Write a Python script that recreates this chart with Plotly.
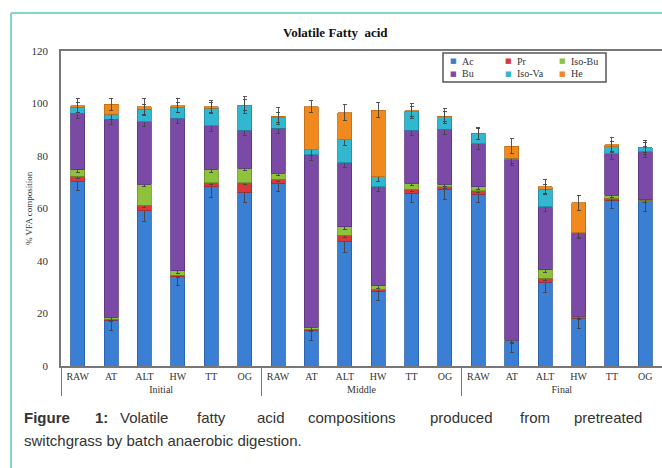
import plotly.graph_objects as go

# Sampling stage and pretreatment for each bar
stages = ["Initial"] * 6 + ["Middle"] * 6 + ["Final"] * 6
treatments = ["RAW", "AT", "ALT", "HW", "TT", "OG"] * 3

# VFA composition (%) per acid
ac = [70.2, 17.5, 59.2, 34.0, 68.3, 66.2, 69.6, 13.7, 47.4, 28.3, 65.8, 67.3, 65.4, 9.3, 31.9, 18.2, 63.0, 62.9]
pr = [2.0, 0.4, 2.1, 0.6, 1.5, 3.6, 1.5, 0.3, 2.5, 0.9, 1.6, 1.0, 1.4, 0.2, 1.5, 0.4, 0.9, 0.2]
iso_bu = [2.5, 0.6, 7.9, 1.6, 5.1, 5.5, 2.3, 0.7, 3.2, 1.4, 2.2, 1.0, 1.5, 0.3, 3.2, 0.4, 1.2, 0.2]
bu = [21.6, 75.5, 23.9, 58.1, 16.6, 14.6, 17.1, 65.7, 24.4, 37.7, 20.3, 20.9, 16.3, 68.7, 24.1, 31.5, 15.7, 18.3]
iso_va = [2.2, 1.9, 4.7, 4.2, 6.7, 9.5, 4.1, 1.9, 8.6, 3.8, 7.0, 4.9, 3.8, 0.6, 6.6, 0.3, 2.8, 1.6]
he = [0.7, 3.8, 1.0, 0.7, 0.6, 0.0, 0.6, 16.5, 10.4, 25.4, 0.3, 0.0, 0.2, 4.7, 1.0, 11.4, 0.6, 0.0]

# Standard deviations
ac_err = [3.5, 4.0, 4.0, 3.5, 4.0, 4.0, 3.0, 4.0, 4.0, 3.5, 3.5, 4.0, 3.0, 4.0, 4.0, 4.0, 3.0, 4.0]
pr_err = [0.8] * 18
iso_bu_err = [1.0] * 18
bu_err = [2.0] * 18
iso_va_err = [2.0] * 18
he_err = [2.8, 2.3, 3.2, 2.8, 2.2, 3.1, 3.1, 2.2, 3.0, 3.0, 2.8, 2.9, 2.4, 2.7, 2.7, 2.8, 2.8, 2.8]

series_names = ["Ac", "Pr", "Iso-Bu", "Bu", "Iso-Va", "He"]
series_values = [ac, pr, iso_bu, bu, iso_va, he]
series_errors = [ac_err, pr_err, iso_bu_err, bu_err, iso_va_err, he_err]
series_colors = ["#3b7fd4", "#d83a3a", "#8fc23c", "#7b4aa6", "#32b7d0", "#f0891e"]
series_edges = ["#2a5ea6", "#a82a2a", "#6a9428", "#5a357d", "#2188a0", "#c06a12"]

# Plot-area geometry in pixels (used for paper-coordinate conversions)
W, H = 662, 468
L, R, T, B = 61, 0, 51, 102
PW, PH = W - L - R, H - T - B


def xp(px):
    return (px - L) / PW


def yp(py):
    return (H - B - py) / PH


SERIF = "Liberation Serif"
SANS = "Liberation Sans"

fig = go.Figure()
for name, vals, errs, col, edge in zip(series_names, series_values, series_errors, series_colors, series_edges):
    fig.add_trace(go.Bar(
        x=[stages, treatments], y=vals, name=name,
        marker=dict(color=col, line=dict(color=edge, width=0.8)),
        error_y=dict(type="data", array=errs, visible=True, color="#444", thickness=0.9, width=2),
        showlegend=False,
    ))

shapes = [
    # teal frame around the figure panel
    dict(type="line", xref="paper", yref="paper", x0=xp(11), x1=xp(11), y0=yp(470), y1=yp(13),
         line=dict(color="#7fd8cc", width=2)),
    dict(type="line", xref="paper", yref="paper", x0=xp(11), x1=xp(664), y0=yp(13), y1=yp(13),
         line=dict(color="#7fd8cc", width=2)),
    # legend box
    dict(type="rect", xref="paper", yref="paper", x0=xp(443), x1=xp(606), y0=yp(53), y1=yp(82),
         line=dict(color="#555", width=1.5), fillcolor="white"),
]

annotations = [
    dict(text="<b>Volatile Fatty  acid</b>", xref="paper", yref="paper", x=xp(335), y=yp(33),
         showarrow=False, font=dict(family=SERIF, size=13, color="#111"), xanchor="center", yanchor="middle"),
    dict(text="% VFA composition", xref="paper", yref="paper", x=xp(29), y=yp(208), textangle=-90,
         showarrow=False, font=dict(family=SERIF, size=9, color="#333"), xanchor="center", yanchor="middle"),
]

# legend entries: marker x and row y
leg_pos = [(461, 61), (516, 61), (570, 61), (461, 74), (516, 74), (570, 74)]
for (lx, ly), name, col in zip(leg_pos, series_names, series_colors):
    annotations.append(dict(text="■", xref="paper", yref="paper", x=xp(lx - 2), y=yp(ly), showarrow=False,
                            xanchor="right", yanchor="middle", font=dict(family="DejaVu Sans", size=7, color=col)))
    annotations.append(dict(text=name, xref="paper", yref="paper", x=xp(lx - 1), y=yp(ly), showarrow=False,
                            xanchor="left", yanchor="middle", font=dict(family=SERIF, size=10, color="#333")))

# justified caption, first line placed word by word
caption_words = [("<b>Figure</b>", 22), ("<b>1:</b>", 93), ("Volatile", 118), ("fatty", 195), ("acid", 255),
                 ("compositions", 306), ("produced", 428), ("from", 518), ("pretreated", 572)]
for word, wx in caption_words:
    annotations.append(dict(text=word, xref="paper", yref="paper", x=xp(wx), y=yp(417), showarrow=False,
                            xanchor="left", yanchor="middle", font=dict(family=SANS, size=15, color="#333")))
annotations.append(dict(text="switchgrass by batch anaerobic digestion.", xref="paper", yref="paper",
                        x=xp(22), y=yp(440), showarrow=False, xanchor="left", yanchor="middle",
                        font=dict(family=SANS, size=15, color="#333")))

fig.update_layout(
    width=W, height=H,
    margin=dict(l=L, r=R, t=T, b=B, pad=0),
    barmode="stack", bargap=0.58,
    paper_bgcolor="white", plot_bgcolor="white",
    shapes=shapes, annotations=annotations,
    xaxis=dict(
        type="multicategory", showline=True, linecolor="#777", linewidth=1.5, mirror=True,
        showgrid=False, ticks="", showdividers=True, dividercolor="#777", dividerwidth=1,
        tickfont=dict(family=SERIF, size=10, color="#333"),
    ),
    yaxis=dict(
        range=[0, 120], dtick=20, showgrid=False, showline=True, linecolor="#777", linewidth=1.5,
        ticks="", zeroline=False, ticklabelstandoff=9,
        tickfont=dict(family=SERIF, size=11, color="#333"),
    ),
)

fig.write_html("out.html")
